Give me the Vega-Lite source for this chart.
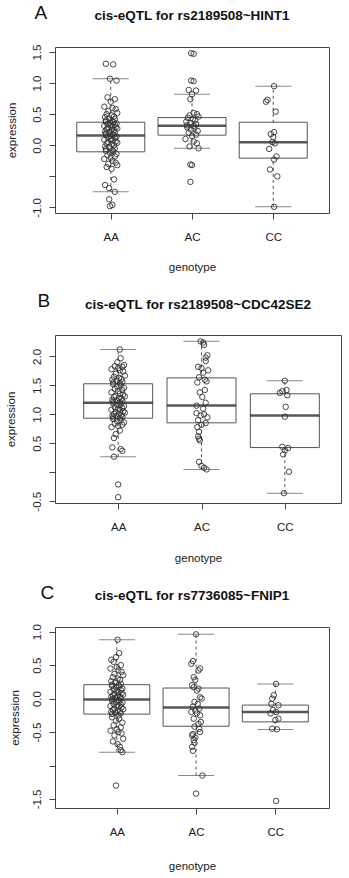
{
"$schema":"https://vega.github.io/schema/vega-lite/v6.json",
"background":"white",
"padding":{"left":4,"top":3,"right":0,"bottom":0},
"align":"none",
"spacing":18,
"datasets":{
"box":[
{"p":"A","g":1,"lo":-0.75,"q1":-0.106,"med":0.156,"q3":0.37,"hi":1.07},
{"p":"A","g":2,"lo":-0.05,"q1":0.162,"med":0.312,"q3":0.445,"hi":0.82},
{"p":"A","g":3,"lo":-0.99,"q1":-0.208,"med":0.049,"q3":0.37,"hi":0.95},
{"p":"B","g":1,"lo":0.27,"q1":0.934,"med":1.2,"q3":1.528,"hi":2.12},
{"p":"B","g":2,"lo":0.05,"q1":0.854,"med":1.153,"q3":1.63,"hi":2.26},
{"p":"B","g":3,"lo":-0.36,"q1":0.427,"med":0.98,"q3":1.355,"hi":1.58},
{"p":"C","g":1,"lo":-0.8,"q1":-0.232,"med":-0.012,"q3":0.208,"hi":0.88},
{"p":"C","g":2,"lo":-1.15,"q1":-0.413,"med":-0.132,"q3":0.158,"hi":0.96},
{"p":"C","g":3,"lo":-0.46,"q1":-0.348,"med":-0.2,"q3":-0.097,"hi":0.22}
],
"pts":[
{"p":"A","g":0.94,"v":1.31},{"p":"A","g":1.03,"v":1.30},{"p":"A","g":0.99,"v":1.07},{"p":"A","g":1.07,"v":1.04},{"p":"A","g":0.96,"v":0.77},{"p":"A","g":1.05,"v":0.74},{"p":"A","g":1.00,"v":0.70},{"p":"A","g":0.92,"v":0.62},{"p":"A","g":1.02,"v":0.60},{"p":"A","g":1.06,"v":0.58},{"p":"A","g":0.97,"v":0.55},{"p":"A","g":1.08,"v":0.52},{"p":"A","g":0.95,"v":0.50},{"p":"A","g":1.01,"v":0.48},{"p":"A","g":1.04,"v":0.46},{"p":"A","g":0.93,"v":0.45},{"p":"A","g":0.98,"v":0.43},{"p":"A","g":1.05,"v":0.42},{"p":"A","g":0.94,"v":0.40},{"p":"A","g":1.02,"v":0.39},
{"p":"A","g":0.94,"v":0.38},{"p":"A","g":1.03,"v":0.37},{"p":"A","g":0.99,"v":0.36},{"p":"A","g":1.07,"v":0.35},{"p":"A","g":0.96,"v":0.34},{"p":"A","g":1.05,"v":0.33},{"p":"A","g":1.00,"v":0.32},{"p":"A","g":0.92,"v":0.31},{"p":"A","g":1.02,"v":0.30},{"p":"A","g":1.06,"v":0.29},{"p":"A","g":0.97,"v":0.28},{"p":"A","g":1.08,"v":0.27},{"p":"A","g":0.95,"v":0.26},{"p":"A","g":1.01,"v":0.25},{"p":"A","g":1.04,"v":0.24},{"p":"A","g":0.93,"v":0.22},{"p":"A","g":0.98,"v":0.21},{"p":"A","g":1.05,"v":0.20},{"p":"A","g":0.94,"v":0.19},{"p":"A","g":1.02,"v":0.18},
{"p":"A","g":0.94,"v":0.17},{"p":"A","g":1.03,"v":0.16},{"p":"A","g":0.99,"v":0.15},{"p":"A","g":1.07,"v":0.14},{"p":"A","g":0.96,"v":0.13},{"p":"A","g":1.05,"v":0.12},{"p":"A","g":1.00,"v":0.10},{"p":"A","g":0.92,"v":0.09},{"p":"A","g":1.02,"v":0.08},{"p":"A","g":1.06,"v":0.06},{"p":"A","g":0.97,"v":0.05},{"p":"A","g":1.08,"v":0.04},{"p":"A","g":0.95,"v":0.03},{"p":"A","g":1.01,"v":0.02},{"p":"A","g":1.04,"v":0.00},{"p":"A","g":0.93,"v":-0.02},{"p":"A","g":0.98,"v":-0.03},{"p":"A","g":1.05,"v":-0.05},{"p":"A","g":0.94,"v":-0.06},{"p":"A","g":1.02,"v":-0.08},
{"p":"A","g":0.94,"v":-0.09},{"p":"A","g":1.03,"v":-0.10},{"p":"A","g":0.99,"v":-0.12},{"p":"A","g":1.07,"v":-0.14},{"p":"A","g":0.96,"v":-0.16},{"p":"A","g":1.05,"v":-0.18},{"p":"A","g":1.00,"v":-0.20},{"p":"A","g":0.92,"v":-0.22},{"p":"A","g":1.02,"v":-0.25},{"p":"A","g":1.06,"v":-0.28},{"p":"A","g":0.97,"v":-0.30},{"p":"A","g":1.08,"v":-0.32},{"p":"A","g":0.95,"v":-0.35},{"p":"A","g":1.01,"v":-0.38},{"p":"A","g":1.04,"v":-0.55},{"p":"A","g":0.93,"v":-0.64},{"p":"A","g":0.98,"v":-0.69},{"p":"A","g":1.05,"v":-0.75},{"p":"A","g":0.98,"v":-0.87},{"p":"A","g":1.02,"v":-0.96},{"p":"A","g":0.99,"v":-0.98},
{"p":"A","g":1.99,"v":1.48},{"p":"A","g":2.02,"v":1.47},{"p":"A","g":1.99,"v":1.04},{"p":"A","g":2.02,"v":1.03},{"p":"A","g":1.96,"v":0.89},{"p":"A","g":2.05,"v":0.88},{"p":"A","g":2.00,"v":0.82},{"p":"A","g":1.98,"v":0.74},{"p":"A","g":2.02,"v":0.52},{"p":"A","g":2.06,"v":0.50},{"p":"A","g":1.97,"v":0.48},{"p":"A","g":2.08,"v":0.46},{"p":"A","g":1.95,"v":0.44},{"p":"A","g":2.01,"v":0.42},{"p":"A","g":2.04,"v":0.40},{"p":"A","g":1.93,"v":0.38},{"p":"A","g":1.98,"v":0.36},{"p":"A","g":2.05,"v":0.34},{"p":"A","g":1.94,"v":0.32},{"p":"A","g":2.02,"v":0.31},{"p":"A","g":1.94,"v":0.29},{"p":"A","g":2.03,"v":0.27},{"p":"A","g":1.99,"v":0.25},{"p":"A","g":2.07,"v":0.23},{"p":"A","g":1.96,"v":0.20},{"p":"A","g":2.05,"v":0.17},{"p":"A","g":2.00,"v":0.15},{"p":"A","g":1.92,"v":0.10},{"p":"A","g":2.02,"v":0.06},{"p":"A","g":2.06,"v":0.03},{"p":"A","g":1.97,"v":-0.02},{"p":"A","g":2.08,"v":-0.05},{"p":"A","g":1.98,"v":-0.31},{"p":"A","g":2.00,"v":-0.32},{"p":"A","g":1.98,"v":-0.59},
{"p":"A","g":3.01,"v":0.95},{"p":"A","g":2.93,"v":0.73},{"p":"A","g":2.91,"v":0.70},{"p":"A","g":3.03,"v":0.54},{"p":"A","g":3.01,"v":0.21},{"p":"A","g":2.97,"v":0.18},{"p":"A","g":3.00,"v":0.13},{"p":"A","g":2.99,"v":0.05},{"p":"A","g":3.02,"v":0.03},{"p":"A","g":2.95,"v":-0.06},{"p":"A","g":3.04,"v":-0.18},{"p":"A","g":3.01,"v":-0.23},{"p":"A","g":2.96,"v":-0.39},{"p":"A","g":3.05,"v":-0.50},{"p":"A","g":3.01,"v":-0.99},
{"p":"B","g":1.02,"v":2.12},{"p":"B","g":1.03,"v":1.97},{"p":"B","g":0.99,"v":1.90},{"p":"B","g":1.07,"v":1.85},{"p":"B","g":0.96,"v":1.83},{"p":"B","g":1.05,"v":1.82},{"p":"B","g":1.00,"v":1.80},{"p":"B","g":0.92,"v":1.78},{"p":"B","g":1.02,"v":1.76},{"p":"B","g":1.06,"v":1.74},{"p":"B","g":0.97,"v":1.70},{"p":"B","g":1.08,"v":1.67},{"p":"B","g":0.95,"v":1.65},{"p":"B","g":1.01,"v":1.63},{"p":"B","g":1.04,"v":1.61},{"p":"B","g":0.93,"v":1.60},{"p":"B","g":0.98,"v":1.58},{"p":"B","g":1.05,"v":1.56},{"p":"B","g":0.94,"v":1.55},{"p":"B","g":1.02,"v":1.54},
{"p":"B","g":0.94,"v":1.52},{"p":"B","g":1.03,"v":1.50},{"p":"B","g":0.99,"v":1.48},{"p":"B","g":1.07,"v":1.46},{"p":"B","g":0.96,"v":1.44},{"p":"B","g":1.05,"v":1.42},{"p":"B","g":1.00,"v":1.40},{"p":"B","g":0.92,"v":1.38},{"p":"B","g":1.02,"v":1.36},{"p":"B","g":1.06,"v":1.34},{"p":"B","g":0.97,"v":1.32},{"p":"B","g":1.08,"v":1.31},{"p":"B","g":0.95,"v":1.30},{"p":"B","g":1.01,"v":1.28},{"p":"B","g":1.04,"v":1.27},{"p":"B","g":0.93,"v":1.25},{"p":"B","g":0.98,"v":1.24},{"p":"B","g":1.05,"v":1.23},{"p":"B","g":0.94,"v":1.22},{"p":"B","g":1.02,"v":1.21},
{"p":"B","g":0.94,"v":1.19},{"p":"B","g":1.03,"v":1.17},{"p":"B","g":0.99,"v":1.16},{"p":"B","g":1.07,"v":1.14},{"p":"B","g":0.96,"v":1.12},{"p":"B","g":1.05,"v":1.11},{"p":"B","g":1.00,"v":1.10},{"p":"B","g":0.92,"v":1.08},{"p":"B","g":1.02,"v":1.07},{"p":"B","g":1.06,"v":1.05},{"p":"B","g":0.97,"v":1.04},{"p":"B","g":1.08,"v":1.03},{"p":"B","g":0.95,"v":1.01},{"p":"B","g":1.01,"v":1.00},{"p":"B","g":1.04,"v":0.99},{"p":"B","g":0.93,"v":0.98},{"p":"B","g":0.98,"v":0.97},{"p":"B","g":1.05,"v":0.96},{"p":"B","g":0.94,"v":0.95},{"p":"B","g":1.02,"v":0.94},
{"p":"B","g":0.94,"v":0.92},{"p":"B","g":1.03,"v":0.90},{"p":"B","g":0.99,"v":0.88},{"p":"B","g":1.07,"v":0.86},{"p":"B","g":0.96,"v":0.84},{"p":"B","g":1.05,"v":0.82},{"p":"B","g":1.00,"v":0.80},{"p":"B","g":0.92,"v":0.78},{"p":"B","g":1.02,"v":0.72},{"p":"B","g":0.97,"v":0.66},{"p":"B","g":0.95,"v":0.59},{"p":"B","g":0.93,"v":0.43},{"p":"B","g":1.03,"v":0.40},{"p":"B","g":1.05,"v":0.37},{"p":"B","g":0.95,"v":0.27},{"p":"B","g":1.00,"v":-0.21},{"p":"B","g":1.00,"v":-0.43},
{"p":"B","g":1.99,"v":2.26},{"p":"B","g":2.02,"v":2.24},{"p":"B","g":2.03,"v":2.20},{"p":"B","g":2.07,"v":2.02},{"p":"B","g":2.05,"v":1.98},{"p":"B","g":2.05,"v":1.92},{"p":"B","g":1.96,"v":1.82},{"p":"B","g":2.00,"v":1.80},{"p":"B","g":2.08,"v":1.76},{"p":"B","g":2.02,"v":1.72},{"p":"B","g":1.97,"v":1.64},{"p":"B","g":2.04,"v":1.60},{"p":"B","g":2.06,"v":1.57},{"p":"B","g":1.95,"v":1.55},{"p":"B","g":2.04,"v":1.42},{"p":"B","g":1.98,"v":1.38},{"p":"B","g":2.01,"v":1.30},{"p":"B","g":2.05,"v":1.20},{"p":"B","g":1.94,"v":1.15},{"p":"B","g":2.02,"v":1.10},{"p":"B","g":1.94,"v":1.02},{"p":"B","g":2.03,"v":1.00},{"p":"B","g":1.99,"v":0.98},{"p":"B","g":2.07,"v":0.95},{"p":"B","g":1.96,"v":0.90},{"p":"B","g":2.05,"v":0.85},{"p":"B","g":2.00,"v":0.82},{"p":"B","g":1.95,"v":0.78},{"p":"B","g":1.97,"v":0.70},{"p":"B","g":1.96,"v":0.62},{"p":"B","g":1.97,"v":0.58},{"p":"B","g":1.98,"v":0.55},{"p":"B","g":1.97,"v":0.18},{"p":"B","g":2.00,"v":0.11},{"p":"B","g":2.03,"v":0.08},{"p":"B","g":2.06,"v":0.05},
{"p":"B","g":3.00,"v":1.58},{"p":"B","g":3.02,"v":1.42},{"p":"B","g":2.97,"v":1.40},{"p":"B","g":2.94,"v":1.37},{"p":"B","g":3.03,"v":1.33},{"p":"B","g":3.01,"v":1.13},{"p":"B","g":3.00,"v":0.96},{"p":"B","g":2.97,"v":0.44},{"p":"B","g":3.04,"v":0.42},{"p":"B","g":3.00,"v":0.38},{"p":"B","g":2.98,"v":0.31},{"p":"B","g":3.05,"v":0.01},{"p":"B","g":2.99,"v":-0.36},
{"p":"C","g":1.01,"v":0.88},{"p":"C","g":1.03,"v":0.68},{"p":"C","g":0.99,"v":0.62},{"p":"C","g":0.93,"v":0.58},{"p":"C","g":0.96,"v":0.55},{"p":"C","g":1.05,"v":0.50},{"p":"C","g":1.00,"v":0.47},{"p":"C","g":0.92,"v":0.45},{"p":"C","g":1.02,"v":0.42},{"p":"C","g":1.06,"v":0.40},{"p":"C","g":0.97,"v":0.37},{"p":"C","g":1.08,"v":0.35},{"p":"C","g":0.95,"v":0.32},{"p":"C","g":1.01,"v":0.30},{"p":"C","g":1.04,"v":0.28},{"p":"C","g":0.93,"v":0.26},{"p":"C","g":0.98,"v":0.24},{"p":"C","g":1.05,"v":0.22},{"p":"C","g":0.94,"v":0.21},
{"p":"C","g":1.02,"v":0.20},{"p":"C","g":0.94,"v":0.19},{"p":"C","g":1.03,"v":0.18},{"p":"C","g":0.99,"v":0.17},{"p":"C","g":1.07,"v":0.15},{"p":"C","g":0.96,"v":0.14},{"p":"C","g":1.05,"v":0.13},{"p":"C","g":1.00,"v":0.12},{"p":"C","g":0.92,"v":0.10},{"p":"C","g":1.02,"v":0.09},{"p":"C","g":1.06,"v":0.08},{"p":"C","g":0.97,"v":0.07},{"p":"C","g":1.08,"v":0.06},{"p":"C","g":0.95,"v":0.05},{"p":"C","g":1.01,"v":0.04},{"p":"C","g":1.04,"v":0.03},{"p":"C","g":0.93,"v":0.02},{"p":"C","g":0.98,"v":0.01},{"p":"C","g":1.05,"v":0.00},{"p":"C","g":0.94,"v":-0.01},
{"p":"C","g":1.02,"v":-0.02},{"p":"C","g":0.94,"v":-0.03},{"p":"C","g":1.03,"v":-0.04},{"p":"C","g":0.99,"v":-0.05},{"p":"C","g":1.07,"v":-0.06},{"p":"C","g":0.96,"v":-0.08},{"p":"C","g":1.05,"v":-0.09},{"p":"C","g":1.00,"v":-0.10},{"p":"C","g":0.92,"v":-0.11},{"p":"C","g":1.02,"v":-0.12},{"p":"C","g":1.06,"v":-0.13},{"p":"C","g":0.97,"v":-0.15},{"p":"C","g":1.08,"v":-0.16},{"p":"C","g":0.95,"v":-0.17},{"p":"C","g":1.01,"v":-0.18},{"p":"C","g":1.04,"v":-0.19},{"p":"C","g":0.93,"v":-0.20},{"p":"C","g":0.98,"v":-0.21},{"p":"C","g":1.05,"v":-0.22},{"p":"C","g":0.94,"v":-0.23},
{"p":"C","g":1.02,"v":-0.25},{"p":"C","g":0.94,"v":-0.28},{"p":"C","g":1.03,"v":-0.30},{"p":"C","g":0.99,"v":-0.33},{"p":"C","g":1.07,"v":-0.36},{"p":"C","g":0.96,"v":-0.40},{"p":"C","g":1.05,"v":-0.43},{"p":"C","g":1.00,"v":-0.46},{"p":"C","g":0.92,"v":-0.48},{"p":"C","g":1.02,"v":-0.50},{"p":"C","g":1.06,"v":-0.52},{"p":"C","g":0.97,"v":-0.55},{"p":"C","g":1.08,"v":-0.60},{"p":"C","g":0.95,"v":-0.64},{"p":"C","g":1.01,"v":-0.68},{"p":"C","g":1.04,"v":-0.72},{"p":"C","g":1.05,"v":-0.77},{"p":"C","g":1.07,"v":-0.80},{"p":"C","g":0.99,"v":-1.30},
{"p":"C","g":2.00,"v":0.96},{"p":"C","g":1.96,"v":0.56},{"p":"C","g":1.94,"v":0.52},{"p":"C","g":2.05,"v":0.45},{"p":"C","g":2.03,"v":0.42},{"p":"C","g":1.97,"v":0.32},{"p":"C","g":1.99,"v":0.28},{"p":"C","g":1.95,"v":0.20},{"p":"C","g":1.97,"v":0.17},{"p":"C","g":2.03,"v":0.15},{"p":"C","g":2.01,"v":0.12},{"p":"C","g":2.05,"v":0.02},{"p":"C","g":2.07,"v":0.00},{"p":"C","g":1.98,"v":-0.05},{"p":"C","g":2.02,"v":-0.08},{"p":"C","g":1.96,"v":-0.12},{"p":"C","g":2.04,"v":-0.15},{"p":"C","g":1.99,"v":-0.18},{"p":"C","g":1.94,"v":-0.20},{"p":"C","g":2.01,"v":-0.22},{"p":"C","g":2.05,"v":-0.25},{"p":"C","g":1.97,"v":-0.30},{"p":"C","g":2.06,"v":-0.35},{"p":"C","g":2.03,"v":-0.38},{"p":"C","g":1.98,"v":-0.42},{"p":"C","g":2.04,"v":-0.45},{"p":"C","g":2.05,"v":-0.50},{"p":"C","g":1.96,"v":-0.53},{"p":"C","g":1.95,"v":-0.55},{"p":"C","g":1.99,"v":-0.58},{"p":"C","g":1.97,"v":-0.62},{"p":"C","g":1.98,"v":-0.66},{"p":"C","g":1.95,"v":-0.72},{"p":"C","g":1.96,"v":-0.78},{"p":"C","g":2.08,"v":-1.15},{"p":"C","g":2.00,"v":-1.42},
{"p":"C","g":3.01,"v":0.22},{"p":"C","g":2.98,"v":0.05},{"p":"C","g":2.96,"v":0.00},{"p":"C","g":2.95,"v":-0.08},{"p":"C","g":3.04,"v":-0.10},{"p":"C","g":2.97,"v":-0.17},{"p":"C","g":3.01,"v":-0.20},{"p":"C","g":2.94,"v":-0.22},{"p":"C","g":3.04,"v":-0.30},{"p":"C","g":3.00,"v":-0.32},{"p":"C","g":2.96,"v":-0.45},{"p":"C","g":3.02,"v":-0.46},{"p":"C","g":3.01,"v":-1.53}
]
},
"vconcat":[
{
"title":{"text":"A","anchor":"start","frame":"bounds","fontSize":19,"fontWeight":"normal","baseline":"alphabetic","dx":29,"dy":10,"offset":-19},
"vconcat":[{
"width":274,"height":166,
"title":{"text":"cis-eQTL for rs2189508~HINT1","offset":21},
"encoding":{"x":{"field":"g","type":"quantitative","scale":{"domain":[0.375,3.625],"nice":false,"zero":false},"axis":{"title":"genotype","values":[1,2,3],"labelExpr":"datum.value==1?'AA':datum.value==2?'AC':'CC'","labelPadding":12,"titlePadding":19,"labelOverlap":false}}},
"layer":[
{"data":{"name":"box"},"transform":[{"filter":"datum.p=='A'"}],"mark":{"type":"rule","strokeDash":[3,3],"color":"#555"},
"encoding":{"y":{"field":"lo","type":"quantitative","scale":{"domain":[-1.09,1.58],"nice":false,"zero":false},"axis":{"title":"expression","values":[-1,-0.5,0,0.5,1,1.5],"labelExpr":"datum.value==-0.5?'':replace(format(datum.value,'.1f'),'\u2212','-')","titlePadding":14,"labelOverlap":false}},"y2":{"field":"hi"}}},
{"data":{"name":"box"},"transform":[{"filter":"datum.p=='A'"}],"mark":{"type":"bar","width":68,"fill":"white","stroke":"#555","strokeWidth":1},
"encoding":{"y":{"field":"q1","type":"quantitative","axis":{"title":"expression","values":[-1,-0.5,0,0.5,1,1.5],"labelExpr":"datum.value==-0.5?'':replace(format(datum.value,'.1f'),'\u2212','-')","titlePadding":14,"labelOverlap":false}},"y2":{"field":"q3"}}},
{"data":{"name":"box"},"transform":[{"filter":"datum.p=='A'"}],"mark":{"type":"tick","orient":"horizontal","size":68,"thickness":2.5,"color":"#111"},
"encoding":{"y":{"field":"med","type":"quantitative","axis":{"title":"expression","values":[-1,-0.5,0,0.5,1,1.5],"labelExpr":"datum.value==-0.5?'':replace(format(datum.value,'.1f'),'\u2212','-')","titlePadding":14,"labelOverlap":false}}}},
{"data":{"name":"box"},"transform":[{"filter":"datum.p=='A'"}],"mark":{"type":"tick","orient":"horizontal","size":36,"thickness":1,"color":"#555"},
"encoding":{"y":{"field":"lo","type":"quantitative","axis":{"title":"expression","values":[-1,-0.5,0,0.5,1,1.5],"labelExpr":"datum.value==-0.5?'':replace(format(datum.value,'.1f'),'\u2212','-')","titlePadding":14,"labelOverlap":false}}}},
{"data":{"name":"box"},"transform":[{"filter":"datum.p=='A'"}],"mark":{"type":"tick","orient":"horizontal","size":36,"thickness":1,"color":"#555"},
"encoding":{"y":{"field":"hi","type":"quantitative","axis":{"title":"expression","values":[-1,-0.5,0,0.5,1,1.5],"labelExpr":"datum.value==-0.5?'':replace(format(datum.value,'.1f'),'\u2212','-')","titlePadding":14,"labelOverlap":false}}}},
{"data":{"name":"pts"},"transform":[{"filter":"datum.p=='A'"}],"mark":{"type":"point","shape":"circle","filled":false,"size":30,"stroke":"#333","strokeWidth":0.9,"opacity":1},
"encoding":{"y":{"field":"v","type":"quantitative","axis":{"title":"expression","values":[-1,-0.5,0,0.5,1,1.5],"labelExpr":"datum.value==-0.5?'':replace(format(datum.value,'.1f'),'\u2212','-')","titlePadding":14,"labelOverlap":false}}}}
]
}]
},
{
"title":{"text":"B","anchor":"start","frame":"bounds","fontSize":19,"fontWeight":"normal","baseline":"alphabetic","dx":33,"dy":10,"offset":-19},
"vconcat":[{
"width":286,"height":168,
"title":{"text":"cis-eQTL for rs2189508~CDC42SE2","offset":24},
"encoding":{"x":{"field":"g","type":"quantitative","scale":{"domain":[0.302,3.614],"nice":false,"zero":false},"axis":{"title":"genotype","values":[1,2,3],"labelExpr":"datum.value==1?'AA':datum.value==2?'AC':'CC'","labelPadding":12,"titlePadding":20,"labelOverlap":false}}},
"layer":[
{"data":{"name":"box"},"transform":[{"filter":"datum.p=='B'"}],"mark":{"type":"rule","strokeDash":[3,3],"color":"#555"},
"encoding":{"y":{"field":"lo","type":"quantitative","scale":{"domain":[-0.53,2.37],"nice":false,"zero":false},"axis":{"title":"expression","values":[-0.5,0,0.5,1,1.5,2],"labelExpr":"datum.value==0?'':replace(format(datum.value,'.1f'),'\u2212','-')","titlePadding":15,"labelOverlap":false}},"y2":{"field":"hi"}}},
{"data":{"name":"box"},"transform":[{"filter":"datum.p=='B'"}],"mark":{"type":"bar","width":69,"fill":"white","stroke":"#555","strokeWidth":1},
"encoding":{"y":{"field":"q1","type":"quantitative","axis":{"title":"expression","values":[-0.5,0,0.5,1,1.5,2],"labelExpr":"datum.value==0?'':replace(format(datum.value,'.1f'),'\u2212','-')","titlePadding":15,"labelOverlap":false}},"y2":{"field":"q3"}}},
{"data":{"name":"box"},"transform":[{"filter":"datum.p=='B'"}],"mark":{"type":"tick","orient":"horizontal","size":69,"thickness":2.5,"color":"#111"},
"encoding":{"y":{"field":"med","type":"quantitative","axis":{"title":"expression","values":[-0.5,0,0.5,1,1.5,2],"labelExpr":"datum.value==0?'':replace(format(datum.value,'.1f'),'\u2212','-')","titlePadding":15,"labelOverlap":false}}}},
{"data":{"name":"box"},"transform":[{"filter":"datum.p=='B'"}],"mark":{"type":"tick","orient":"horizontal","size":36,"thickness":1,"color":"#555"},
"encoding":{"y":{"field":"lo","type":"quantitative","axis":{"title":"expression","values":[-0.5,0,0.5,1,1.5,2],"labelExpr":"datum.value==0?'':replace(format(datum.value,'.1f'),'\u2212','-')","titlePadding":15,"labelOverlap":false}}}},
{"data":{"name":"box"},"transform":[{"filter":"datum.p=='B'"}],"mark":{"type":"tick","orient":"horizontal","size":36,"thickness":1,"color":"#555"},
"encoding":{"y":{"field":"hi","type":"quantitative","axis":{"title":"expression","values":[-0.5,0,0.5,1,1.5,2],"labelExpr":"datum.value==0?'':replace(format(datum.value,'.1f'),'\u2212','-')","titlePadding":15,"labelOverlap":false}}}},
{"data":{"name":"pts"},"transform":[{"filter":"datum.p=='B'"}],"mark":{"type":"point","shape":"circle","filled":false,"size":30,"stroke":"#333","strokeWidth":0.9,"opacity":1},
"encoding":{"y":{"field":"v","type":"quantitative","axis":{"title":"expression","values":[-0.5,0,0.5,1,1.5,2],"labelExpr":"datum.value==0?'':replace(format(datum.value,'.1f'),'\u2212','-')","titlePadding":15,"labelOverlap":false}}}}
]
}]
},
{
"title":{"text":"C","anchor":"start","frame":"bounds","fontSize":19,"fontWeight":"normal","baseline":"alphabetic","dx":32,"dy":10,"offset":-19},
"vconcat":[{
"width":274,"height":181,
"title":{"text":"cis-eQTL for rs7736085~FNIP1","offset":21},
"encoding":{"x":{"field":"g","type":"quantitative","scale":{"domain":[0.283,3.614],"nice":false,"zero":false},"axis":{"title":"genotype","values":[1,2,3],"labelExpr":"datum.value==1?'AA':datum.value==2?'AC':'CC'","labelPadding":12,"titlePadding":23,"labelOverlap":false}}},
"layer":[
{"data":{"name":"box"},"transform":[{"filter":"datum.p=='C'"}],"mark":{"type":"rule","strokeDash":[3,3],"color":"#555"},
"encoding":{"y":{"field":"lo","type":"quantitative","scale":{"domain":[-1.635,1.07],"nice":false,"zero":false},"axis":{"title":"expression","values":[-1.5,-1,-0.5,0,0.5,1],"labelExpr":"datum.value==-1?'':replace(format(datum.value,'.1f'),'\u2212','-')","titlePadding":11,"labelOverlap":false}},"y2":{"field":"hi"}}},
{"data":{"name":"box"},"transform":[{"filter":"datum.p=='C'"}],"mark":{"type":"bar","width":66,"fill":"white","stroke":"#555","strokeWidth":1},
"encoding":{"y":{"field":"q1","type":"quantitative","axis":{"title":"expression","values":[-1.5,-1,-0.5,0,0.5,1],"labelExpr":"datum.value==-1?'':replace(format(datum.value,'.1f'),'\u2212','-')","titlePadding":11,"labelOverlap":false}},"y2":{"field":"q3"}}},
{"data":{"name":"box"},"transform":[{"filter":"datum.p=='C'"}],"mark":{"type":"tick","orient":"horizontal","size":66,"thickness":2.5,"color":"#111"},
"encoding":{"y":{"field":"med","type":"quantitative","axis":{"title":"expression","values":[-1.5,-1,-0.5,0,0.5,1],"labelExpr":"datum.value==-1?'':replace(format(datum.value,'.1f'),'\u2212','-')","titlePadding":11,"labelOverlap":false}}}},
{"data":{"name":"box"},"transform":[{"filter":"datum.p=='C'"}],"mark":{"type":"tick","orient":"horizontal","size":36,"thickness":1,"color":"#555"},
"encoding":{"y":{"field":"lo","type":"quantitative","axis":{"title":"expression","values":[-1.5,-1,-0.5,0,0.5,1],"labelExpr":"datum.value==-1?'':replace(format(datum.value,'.1f'),'\u2212','-')","titlePadding":11,"labelOverlap":false}}}},
{"data":{"name":"box"},"transform":[{"filter":"datum.p=='C'"}],"mark":{"type":"tick","orient":"horizontal","size":36,"thickness":1,"color":"#555"},
"encoding":{"y":{"field":"hi","type":"quantitative","axis":{"title":"expression","values":[-1.5,-1,-0.5,0,0.5,1],"labelExpr":"datum.value==-1?'':replace(format(datum.value,'.1f'),'\u2212','-')","titlePadding":11,"labelOverlap":false}}}},
{"data":{"name":"pts"},"transform":[{"filter":"datum.p=='C'"}],"mark":{"type":"point","shape":"circle","filled":false,"size":30,"stroke":"#333","strokeWidth":0.9,"opacity":1},
"encoding":{"y":{"field":"v","type":"quantitative","axis":{"title":"expression","values":[-1.5,-1,-0.5,0,0.5,1],"labelExpr":"datum.value==-1?'':replace(format(datum.value,'.1f'),'\u2212','-')","titlePadding":11,"labelOverlap":false}}}}
]
}]
}
],
"config":{
"font":"Liberation Sans",
"view":{"stroke":"#444","strokeWidth":1},
"axis":{"grid":false,"domain":false,"tickColor":"#444","tickSize":6,"labelColor":"#222","titleColor":"#222","labelFontSize":11.5,"titleFontSize":11.5,"titleFontWeight":"normal","labelFont":"Liberation Sans","titleFont":"Liberation Sans","labelOverlap":false},
"axisY":{"labelAngle":-90,"labelAlign":"center","labelBaseline":"bottom","labelPadding":7},
"title":{"fontSize":13.5,"fontWeight":"bold","color":"#111","baseline":"alphabetic","font":"Liberation Sans"}
}
}
